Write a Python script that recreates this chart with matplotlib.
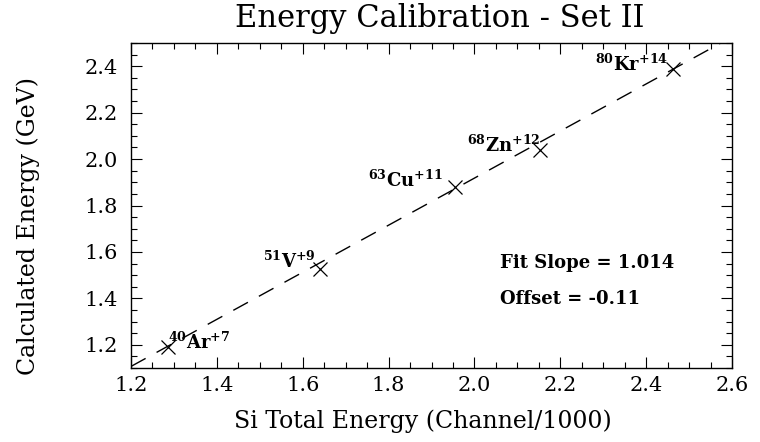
import numpy as np
import matplotlib
matplotlib.use("Agg")
import matplotlib.pyplot as plt
from matplotlib.ticker import MultipleLocator

# calibration beams: Si detector total energy vs. calculated beam energy
ions = [r"$^{\mathbf{40}}\mathbf{Ar}^{\mathbf{+7}}$",
        r"$^{\mathbf{51}}\mathbf{V}^{\mathbf{+9}}$",
        r"$^{\mathbf{63}}\mathbf{Cu}^{\mathbf{+11}}$",
        r"$^{\mathbf{68}}\mathbf{Zn}^{\mathbf{+12}}$",
        r"$^{\mathbf{80}}\mathbf{Kr}^{\mathbf{+14}}$"]
si_energy = [1.286, 1.640, 1.955, 2.153, 2.462]
calc_energy = [1.19, 1.527, 1.881, 2.04, 2.389]

# linear fit result
fit_slope = 1.014
fit_offset = -0.11

W, H = 760, 442
plt.rcParams['font.family'] = ['DejaVu Serif']
plt.rcParams['mathtext.fontset'] = 'dejavuserif'


def fx(px):
    return px / W


def fy(py):
    return 1 - py / H


fig = plt.figure(figsize=(W / 100, H / 100), dpi=100)
ax = fig.add_axes([fx(131), fy(368), 601 / W, 325 / H])

ax.set_xlim(1.2, 2.6)
ax.set_ylim(1.1, 2.5)

# fit line across the whole x range
xs = np.array(ax.get_xlim())
ax.plot(xs, fit_slope * xs + fit_offset, color='black', lw=1.0,
        linestyle=(0, (12, 9)))
ax.plot(si_energy, calc_energy, 'x', color='black', ms=9.5, mew=0.9)

# label offsets in pixels (dx, dy) and alignment for each beam
label_offsets = [(0, -2), (-4, 1), (-12, 0), (0, -2), (-5, -2)]
label_ha = ['left', 'right', 'right', 'right', 'right']
for name, x, y, (dx, dy), ha in zip(ions, si_energy, calc_energy,
                                    label_offsets, label_ha):
    ax.annotate(name, (x, y), xytext=(dx * 0.72, dy * 0.72),
                textcoords='offset points', ha=ha, va='baseline',
                fontsize=13)

ax.xaxis.set_major_locator(MultipleLocator(0.2))
ax.xaxis.set_minor_locator(MultipleLocator(0.05))
ax.yaxis.set_major_locator(MultipleLocator(0.2))
ax.yaxis.set_minor_locator(MultipleLocator(0.05))
ax.xaxis.set_major_formatter(lambda v, p: f"{v:.1f}")
ax.yaxis.set_major_formatter(lambda v, p: f"{v:.1f}")
ax.tick_params(which='both', direction='in', top=True, right=True,
               width=0.8, labelsize=15)
ax.tick_params(which='major', length=8)
ax.tick_params(which='minor', length=4.3)
ax.tick_params(axis='x', pad=6)
ax.tick_params(axis='y', pad=9.5)
for s in ax.spines.values():
    s.set_linewidth(1.0)

fig.text(fx(440), fy(27), "Energy Calibration - Set II", ha='center',
         va='baseline', fontsize=22)
fig.text(fx(423), fy(428), "Si Total Energy (Channel/1000)", ha='center',
         va='baseline', fontsize=17)
fig.text(fx(28), fy(226), "Calculated Energy (GeV)", rotation=90,
         ha='center', va='center', fontsize=17)

fig.text(fx(500), fy(268), f"Fit Slope = {fit_slope:.3f}", va='baseline',
         fontsize=13, fontweight='bold')
fig.text(fx(500), fy(304), f"Offset = {fit_offset:.2f}", va='baseline',
         fontsize=13, fontweight='bold')

fig.savefig("out.png", dpi=100)
